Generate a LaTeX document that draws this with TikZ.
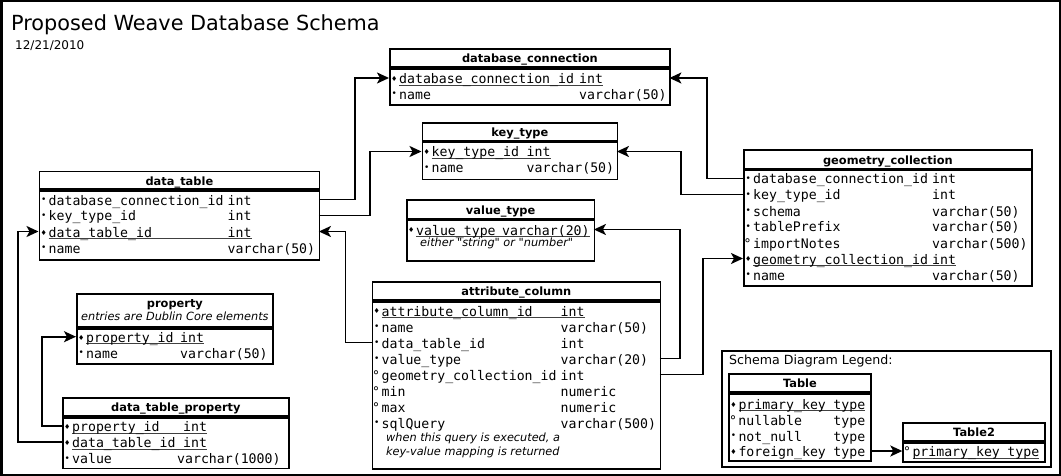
\documentclass[tikz,border=0pt]{standalone}
\usepackage{fontspec}
\setmainfont{DejaVu Sans}
\setmonofont{DejaVu Sans Mono}
\newfontfamily\markfont{DejaVu Sans}
\usepackage{xcolor}
\usetikzlibrary{arrows.meta}

% field markers
\newcommand{\fmark}[2]{\makebox[10pt][c]{\raisebox{#1}{\fontsize{9}{9}\markfont #2}}}
\newcommand{\fnotnull}{\fmark{2.5pt}{•}}
\newcommand{\fnull}{\makebox[10pt][l]{\hspace{0.5pt}°}}
\newcommand{\fkey}{\fmark{2pt}{\fontsize{7}{7}\selectfont♦}}
% name and type columns
\newsavebox{\keybox}
\newcommand{\fcol}[3]{\makebox[\dimexpr#1pt-10pt\relax][l]{#2}#3}
\newcommand{\kcol}[3]{\sbox{\keybox}{\fcol{#1}{#2}{#3}}\rlap{\textcolor{darkgray}{\rule[-2pt]{\wd\keybox}{0.9pt}}}\usebox{\keybox}}

\begin{document}
\begin{tikzpicture}[
    x=1pt, y=-1pt,
    tbl/.style={draw, line width=1.8pt, anchor=north west, inner sep=0pt},
    thead/.style={tbl, font=\fontsize{11.4}{13}\selectfont\bfseries},
    thline/.style={thead, text height=9.5pt, text depth=0pt},
    fld/.style={anchor=west, inner sep=0pt, align=left, text height=12pt, text depth=1pt, font=\fontsize{13.2}{16}\selectfont\ttfamily},
    note/.style={anchor=west, inner sep=0pt, font=\fontsize{11.3}{13}\selectfont\itshape},
    fk/.style={line width=1.8pt, -{Stealth[length=12pt,width=11pt,inset=3pt]}},
]
\useasboundingbox (0,0) rectangle (1061,476);
\draw[line width=2.5pt] (1.25,1.25) rectangle (1059.75,474.75);

% Title
\node[anchor=base west, inner sep=0pt, font=\fontsize{20.8}{24}\selectfont] (title) at (11,31) {Proposed Weave Database Schema};
\node[anchor=base west, inner sep=0pt, font=\fontsize{12}{14}\selectfont] (date) at (15,50) {12/21/2010};

% database_connection
\node[thline, minimum width=280pt, minimum height=18pt] (dc) at (389,48) {database\_connection};
\node[tbl, minimum width=280pt, minimum height=36.5pt] (dc-body) at (dc.south west) {};
\node[fld, text width=280pt] (dc-r1) at (389,78) {\fkey\kcol{190}{database\_connection\_id}{int}};
\node[fld, text width=280pt] (dc-r2) at (389,94) {\fnotnull\fcol{190}{name}{varchar(50)}};

% key_type
\node[thline, minimum width=195pt, minimum height=17.5pt] (kt) at (421.5,122.3) {key\_type};
\node[tbl, minimum width=195pt, minimum height=37pt] (kt-body) at (kt.south west) {};
\node[fld, text width=195pt] (kt-r1) at (421.5,151.5) {\fkey\kcol{105}{key\_type\_id}{int}};
\node[fld, text width=195pt] (kt-r2) at (421.5,167.5) {\fnotnull\fcol{105}{name}{varchar(50)}};

% value_type
\node[thline, minimum width=187.5pt, minimum height=18.2pt] (vt) at (406,199.5) {value\_type};
\node[tbl, minimum width=187.5pt, minimum height=40.6pt] (vt-body) at (vt.south west) {};
\node[fld, text width=187.5pt] (vt-r1) at (406,229.5) {\fkey\kcol{96}{value\_type}{varchar(20)}};
\node[note] (vt-n) at (420,243) {either \textquotedbl string\textquotedbl{} or \textquotedbl number\textquotedbl};

% data_table
\node[thline, minimum width=280pt, minimum height=17.8pt] (dt) at (38.5,170.7) {data\_table};
\node[tbl, minimum width=280pt, minimum height=68.5pt] (dt-body) at (dt.south west) {};
\node[fld, text width=280pt] (dt-r1) at (38.5,199.5) {\fnotnull\fcol{189}{database\_connection\_id}{int}};
\node[fld, text width=280pt] (dt-r2) at (38.5,215.5) {\fnotnull\fcol{189}{key\_type\_id}{int}};
\node[fld, text width=280pt] (dt-r3) at (38.5,231.5) {\fkey\kcol{189}{data\_table\_id}{int}};
\node[fld, text width=280pt] (dt-r4) at (38.5,247.5) {\fnotnull\fcol{189}{name}{varchar(50)}};

% geometry_collection
\node[thline, minimum width=288pt, minimum height=18.4pt] (gc) at (743,149.3) {geometry\_collection};
\node[tbl, minimum width=288pt, minimum height=115.6pt] (gc-body) at (gc.south west) {};
\node[fld, text width=288pt] (gc-r1) at (743,178.5) {\fnotnull\fcol{189}{database\_connection\_id}{int}};
\node[fld, text width=288pt] (gc-r2) at (743,194.5) {\fnotnull\fcol{189}{key\_type\_id}{int}};
\node[fld, text width=288pt] (gc-r3) at (743,210.5) {\fnotnull\fcol{189}{schema}{varchar(50)}};
\node[fld, text width=288pt] (gc-r4) at (743,226.5) {\fnotnull\fcol{189}{tablePrefix}{varchar(50)}};
\node[fld, text width=288pt] (gc-r5) at (743,242.5) {\fnull\fcol{189}{importNotes}{varchar(500)}};
\node[fld, text width=288pt] (gc-r6) at (743,258.5) {\fkey\kcol{189}{geometry\_collection\_id}{int}};
\node[fld, text width=288pt] (gc-r7) at (743,274.5) {\fnotnull\fcol{189}{name}{varchar(50)}};

% attribute_column
\node[thline, minimum width=288pt, minimum height=18pt] (ac) at (371.5,281) {attribute\_column};
\node[tbl, minimum width=288pt, minimum height=167.5pt] (ac-body) at (ac.south west) {};
\node[fld, text width=288pt] (ac-r1) at (371.5,310.5) {\fkey\kcol{189}{attribute\_column\_id}{int}};
\node[fld, text width=288pt] (ac-r2) at (371.5,326.5) {\fnotnull\fcol{189}{name}{varchar(50)}};
\node[fld, text width=288pt] (ac-r3) at (371.5,342.5) {\fnotnull\fcol{189}{data\_table\_id}{int}};
\node[fld, text width=288pt] (ac-r4) at (371.5,358.5) {\fnotnull\fcol{189}{value\_type}{varchar(20)}};
\node[fld, text width=288pt] (ac-r5) at (371.5,374.5) {\fnull\fcol{189}{geometry\_collection\_id}{int}};
\node[fld, text width=288pt] (ac-r6) at (371.5,390.5) {\fnull\fcol{189}{min}{numeric}};
\node[fld, text width=288pt] (ac-r7) at (371.5,406.5) {\fnull\fcol{189}{max}{numeric}};
\node[fld, text width=288pt] (ac-r8) at (371.5,422.5) {\fnotnull\fcol{189}{sqlQuery}{varchar(500)}};
\node[note] (ac-n1) at (386,438) {when this query is executed, a};
\node[note] (ac-n2) at (386,452) {key-value mapping is returned};

% property
\node[thead, minimum width=196pt, minimum height=32.7pt, align=center] (pr) at (76,293.3)
    {property\\{\normalfont\itshape\fontsize{11.3}{13}\selectfont entries are Dublin Core elements}};
\node[tbl, minimum width=196pt, minimum height=35pt] (pr-body) at (pr.south west) {};
\node[fld, text width=196pt] (pr-r1) at (76,336.7) {\fkey\kcol{104}{property\_id}{int}};
\node[fld, text width=196pt] (pr-r2) at (76,352.7) {\fnotnull\fcol{104}{name}{varchar(50)}};

% data_table_property
\node[thline, minimum width=226pt, minimum height=18.3pt] (dtp) at (62,396.7) {data\_table\_property};
\node[tbl, minimum width=226pt, minimum height=50.7pt] (dtp-body) at (dtp.south west) {};
\node[fld, text width=226pt] (dtp-r1) at (62,426) {\fkey\kcol{121}{property\_id}{int}};
\node[fld, text width=226pt] (dtp-r2) at (62,442) {\fkey\kcol{121}{data\_table\_id}{int}};
\node[fld, text width=226pt] (dtp-r3) at (62,458) {\fnotnull\fcol{115}{value}{varchar(1000)}};

% legend
\node[tbl, minimum width=329pt, minimum height=116pt] (lg) at (721,350) {};
\node[anchor=west, inner sep=0pt, font=\fontsize{12.6}{15}\selectfont] (lg-t) at (729,361) {Schema Diagram Legend:};
\node[thline, minimum width=141.5pt, minimum height=17.7pt] (lt) at (728.3,373.3) {Table};
\node[tbl, minimum width=141.5pt, minimum height=67.5pt] (lt-body) at (lt.south west) {};
\node[fld, text width=141.5pt] (lt-r1) at (728.3,403.5) {\fkey\kcol{105}{primary\_key}{type}};
\node[fld, text width=141.5pt] (lt-r2) at (728.3,419.5) {\fnull\fcol{105}{nullable}{type}};
\node[fld, text width=141.5pt] (lt-r3) at (728.3,435.5) {\fnotnull\fcol{105}{not\_null}{type}};
\node[fld, text width=141.5pt] (lt-r4) at (728.3,451) {\fkey\fcol{105}{foreign\_key}{type}};
\node[thline, minimum width=141.7pt, minimum height=18.3pt] (lt2) at (902.3,421.7) {Table2};
\node[tbl, minimum width=141.7pt, minimum height=19pt] (lt2-body) at (lt2.south west) {};
\node[fld, text width=141.7pt] (lt2-r1) at (902.3,451) {\fnull\kcol{105}{primary\_key}{type}};

% foreign keys
\draw[fk] (dt-r1.east) -- ++(36,0) |- (dc-r1.west);
\draw[fk] (dt-r2.east) -- ++(51,0) |- (kt-r1.west);
\draw[fk] (ac-r3.west) -- ++(-26,0) |- (dt-r3.east);
\draw[fk] (ac-r4.east) -- ++(20,0) |- (vt-r1.east);
\draw[fk] (ac-r5.east) -- ++(43,0) |- (gc-r6.west);
\draw[fk] (gc-r1.west) -- ++(-36,0) |- (dc-r1.east);
\draw[fk] (gc-r2.west) -- ++(-62,0) |- (kt-r1.east);
\draw[fk] (dtp-r2.west) -- ++(-44,0) |- (dt-r3.west);
\draw[fk] (dtp-r1.west) -- ++(-20,0) |- (pr-r1.west);
\draw[fk] (lt-r4.east) -- (lt2-r1.west);

\end{tikzpicture}
\end{document}
